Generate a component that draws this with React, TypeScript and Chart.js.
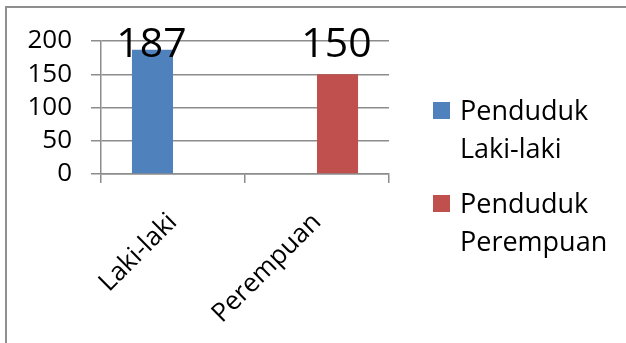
import React, { useEffect, useRef } from "react";
import { Chart, registerables } from "chart.js";

Chart.register(...registerables);

const categories = ["Laki-laki", "Perempuan"];
const seriesNames = ["Penduduk Laki-laki", "Penduduk Perempuan"];
const lakiValues = [187, null];
const perempuanValues = [null, 150];
const yTicks = [0, 50, 100, 150, 200];
const seriesColors = ["#4F81BD", "#C0504D"];

const FONT = "'Open Sans', 'Noto Sans', sans-serif";
const GRID = "#8c8c8c";

const framePlugin = {
  id: "frame",
  beforeDraw(chart: any) {
    const ctx = chart.ctx;
    ctx.save();
    ctx.fillStyle = "#ffffff";
    ctx.fillRect(0, 0, chart.width, chart.height);
    ctx.fillStyle = "#8f8f8f";
    ctx.fillRect(5, 6, chart.width - 5, 2);
    ctx.fillRect(5, 6, 2, chart.height - 6);
    ctx.restore();
  },
};

const dataLabelPlugin = {
  id: "dataLabels",
  afterDatasetsDraw(chart: any) {
    const ctx = chart.ctx;
    ctx.save();
    ctx.font = `41px ${FONT}`;
    ctx.fillStyle = "#000";
    ctx.textAlign = "center";
    ctx.textBaseline = "alphabetic";
    chart.data.datasets.forEach((ds: any, i: number) => {
      const meta = chart.getDatasetMeta(i);
      meta.data.forEach((bar: any, j: number) => {
        const v = ds.data[j];
        if (v == null) return;
        ctx.fillText(String(v), bar.x - 1, chart.chartArea.top + 16);
      });
    });
    ctx.restore();
  },
};

const legendPlugin = {
  id: "sideLegend",
  afterDraw(chart: any) {
    const ctx = chart.ctx;
    const area = chart.chartArea;
    ctx.save();
    ctx.font = `27px ${FONT}`;
    ctx.textAlign = "left";
    ctx.textBaseline = "alphabetic";
    chart.data.datasets.forEach((ds: any, i: number) => {
      const boxX = area.right + 44;
      const boxY = area.top + 61 + i * 93;
      ctx.fillStyle = ds.backgroundColor;
      ctx.fillRect(boxX, boxY, 17, 17);
      ctx.fillStyle = "#000";
      const label: string = ds.label;
      const sp = label.indexOf(" ");
      const lines = sp > 0 ? [label.slice(0, sp), label.slice(sp + 1)] : [label];
      lines.forEach((line, k) => {
        ctx.fillText(line, boxX + 27, boxY + 18 + k * 38);
      });
    });
    ctx.restore();
  },
};

export default function App() {
  const ref = useRef<HTMLCanvasElement | null>(null);

  useEffect(() => {
    document.body.style.margin = "0";
    if (!ref.current) return;
    const chart = new Chart(ref.current, {
      type: "bar",
      data: {
        labels: categories,
        datasets: [
          {
            label: seriesNames[0],
            data: lakiValues,
            backgroundColor: seriesColors[0],
            borderWidth: 0,
          },
          {
            label: seriesNames[1],
            data: perempuanValues,
            backgroundColor: seriesColors[1],
            borderWidth: 0,
          },
        ],
      },
      options: {
        responsive: false,
        animation: false,
        devicePixelRatio: 1,
        layout: { padding: { top: 41, right: 237, left: 0, bottom: 0 } },
        datasets: {
          bar: { categoryPercentage: 0.57, barPercentage: 1.0 },
        },
        plugins: {
          legend: { display: false },
          tooltip: { enabled: false },
          title: { display: false },
        },
        scales: {
          x: {
            offset: true,
            afterFit: (s: any) => {
              s.height = 169;
            },
            grid: {
              display: true,
              offset: true,
              drawOnChartArea: false,
              drawTicks: true,
              tickLength: 9,
              color: GRID,
              lineWidth: 1.5,
            },
            border: { display: true, color: GRID, width: 1.5 },
            ticks: {
              color: "#000",
              font: { family: FONT, size: 26 },
              minRotation: 45,
              maxRotation: 45,
              autoSkip: false,
              padding: 24,
            },
          },
          y: {
            min: 0,
            max: 200,
            afterFit: (s: any) => {
              s.width = 101;
            },
            afterBuildTicks: (s: any) => {
              s.ticks = yTicks.map((v) => ({ value: v }));
            },
            grid: {
              color: GRID,
              lineWidth: 1.5,
              drawTicks: true,
              tickLength: 10,
            },
            border: { display: true, color: GRID, width: 1.5 },
            ticks: {
              color: "#000",
              font: { family: FONT, size: 26 },
              autoSkip: false,
              padding: 19,
            },
          },
        },
      },
      plugins: [framePlugin, dataLabelPlugin, legendPlugin],
    });
    return () => chart.destroy();
  }, []);

  return (
    <canvas
      ref={ref}
      width={626}
      height={343}
      style={{ display: "block", width: 626, height: 343 }}
    />
  );
}
